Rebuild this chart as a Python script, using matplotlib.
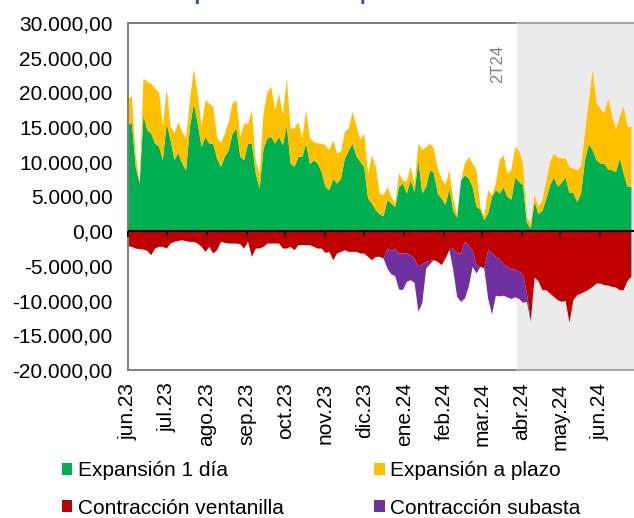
import matplotlib
matplotlib.use('Agg')
import matplotlib.pyplot as plt
import matplotlib.transforms as mtransforms
from matplotlib.patches import Patch
import pandas as pd
import numpy as np

plt.rcParams['font.family'] = ['Liberation Sans', 'DejaVu Sans']

# ---------------- data ----------------
dates = pd.date_range('2023-06-01', periods=131, freq='3D')

exp_1dia = [15264, 15600, 9264, 6864, 16704, 14544, 14064, 12624, 12240, 10224,
            15504, 13104, 10224, 11280, 9744, 8784, 15024, 18384, 15504, 12144,
            13584, 12624, 12624, 10464, 9264, 10704, 11664, 14064, 14784, 10704,
            10224, 12624, 12624, 8304, 6144, 11904, 13344, 13584, 12624, 13584,
            12384, 15264, 9744, 9264, 10704, 10704, 12624, 9648, 10224, 9744,
            8544, 6384, 5904, 7584, 6864, 7584, 10464, 11568, 12624, 10800,
            9984, 9264, 4704, 3984, 3024, 2448, 2160, 4464, 3984, 3504,
            6384, 6864, 5424, 7344, 5664, 10224, 5424, 6384, 8784, 8400,
            5424, 4704, 3744, 6144, 2928, 1968, 7344, 8064, 7584, 6384,
            3504, 3120, 1584, 2544, 4944, 5904, 5424, 6288, 4944, 4560,
            7728, 7104, 6624, 1200, 384, 4224, 2448, 2928, 4560, 6624,
            7728, 6384, 7008, 7728, 5520, 5520, 4224, 5424, 10224, 12528,
            11664, 10224, 9744, 9744, 8880, 8784, 8544, 10464, 8304, 6384,
            6384]

exp_plazo = [3840, 3840, 1920, 0, 5280, 6960, 7200, 7920, 7824, 4800,
             5040, 1920, 3840, 4464, 4560, 4560, 3840, 5040, 4320, 2880,
             5280, 5760, 5280, 3120, 3360, 3360, 4080, 4320, 4080, 2880,
             5280, 2880, 4800, 1920, 2160, 5040, 6720, 7200, 4800, 6240,
             4320, 6720, 5040, 5520, 5040, 2640, 4800, 3696, 2640, 2880,
             4080, 6000, 5760, 5520, 4320, 3840, 3840, 3216, 4560, 4320,
             3216, 4800, 3600, 6960, 6240, 2976, 3024, 1920, 960, 480,
             1920, 480, 1680, 1920, 1200, 2400, 6240, 5760, 3840, 3504,
             3600, 2880, 2880, 2640, 1776, 336, 0, 1680, 3120, 3360,
             5280, 384, 576, 3360, 240, 960, 4896, 4656, 3360, 4320,
             4416, 4464, 3120, 864, 720, 960, 1056, 1440, 2544, 3360,
             3360, 4224, 3456, 2736, 3744, 3504, 4560, 3840, 3840, 6096,
             11520, 8160, 7920, 7200, 10224, 7920, 6000, 6000, 9600, 8640,
             8640]

contr_ventanilla = [-2160, -2256, -2496, -2592, -2640, -2832, -3456, -2496, -2256, -2256,
                    -2496, -1776, -1536, -1392, -1296, -1440, -1536, -1536, -1776, -2256,
                    -2976, -2256, -3216, -2736, -1536, -1680, -1776, -1776, -1776, -1872,
                    -2496, -1536, -3696, -2496, -2496, -2256, -1776, -1776, -1776, -1776,
                    -2496, -2496, -2256, -2736, -2016, -2016, -2016, -2016, -2256, -2496,
                    -2496, -3120, -2976, -4176, -3216, -2976, -2736, -2976, -2976, -2976,
                    -3216, -3216, -3696, -4176, -3696, -3696, -3936, -2496, -2832, -2496,
                    -3216, -3216, -3216, -3456, -3936, -5136, -4752, -4416, -4272, -4176,
                    -4416, -4896, -3936, -2736, -2496, -3216, -3216, -1536, -2016, -2832,
                    -4896, -5136, -5376, -2736, -3120, -3696, -4032, -4752, -5136, -5472,
                    -5520, -5856, -6192, -8976, -13000, -6672, -7200, -8496, -8496, -8976,
                    -9456, -9936, -10176, -10032, -13200, -9936, -9216, -8976, -8736, -8400,
                    -8016, -7536, -7536, -7776, -7824, -8016, -8112, -8496, -8496, -7152,
                    -6576]

contr_subasta = [0] * 67 + [-2880, -3360, -3984, -5184, -5280, -4080, -3600, -3504,
                            -6480, -5568, -960, -480, 0, 0, 0, 0, 0, -3120, -6240,
                            -6960, -8160, -6000, -2304, -1200, 0, 0, -6960, -8880,
                            -5600, -5360, -4540, -4400, -4300, -4000, -3900, -4100,
                            -1200] + [0] * 27

month_ticks = pd.date_range('2023-06-01', '2024-06-01', freq='MS')
month_labels = ['jun.23', 'jul.23', 'ago.23', 'sep.23', 'oct.23', 'nov.23', 'dic.23',
                'ene.24', 'feb.24', 'mar.24', 'abr.24', 'may.24', 'jun.24']

y_ticks = [-20000, -15000, -10000, -5000, 0, 5000, 10000, 15000, 20000, 25000, 30000]
y_labels = ['-20.000,00', '-15.000,00', '-10.000,00', '-5.000,00', '0,00', '5.000,00',
            '10.000,00', '15.000,00', '20.000,00', '25.000,00', '30.000,00']

series_names = ['Expansión 1 día', 'Expansión a plazo', 'Contracción ventanilla', 'Contracción subasta']
colors = ['#00B050', '#FFC000', '#C00000', '#7030A0']

quarter_start = pd.Timestamp('2024-03-28')
quarter_label = '2T24'
x_end = pd.Timestamp('2024-06-27')

title = 'Evolución del saldo de las operaciones de liquidez del Banco Central de Reserva'

# ---------------- figure ----------------
W, H = 634, 518
fig = plt.figure(figsize=(W / 100, H / 100), dpi=100)
ax = fig.add_axes([128 / W, 1 - 370 / H, 1 - 128 / W, (370 - 23) / H])

ax.axvspan(quarter_start, x_end, color='#EBEBEB', lw=0, zorder=0)

ax.stackplot(dates, np.array(exp_1dia), np.array(exp_plazo),
             colors=colors[:2], lw=0, zorder=2)
ax.stackplot(dates, np.array(contr_ventanilla), np.array(contr_subasta),
             colors=colors[2:], lw=0, zorder=2)

ax.set_xlim(pd.Timestamp('2023-06-01'), x_end)
ax.set_ylim(-20000, 30000)

ax.set_yticks(y_ticks)
ax.set_yticklabels(y_labels)
ax.tick_params(axis='y', length=0, pad=11, labelsize=15)

ax.set_xticks(month_ticks)
ax.set_xticklabels(month_labels, rotation=90, va='top', ha='center')
ax.tick_params(axis='x', length=0, pad=9, labelsize=15)

for s in ['left', 'top', 'bottom']:
    ax.spines[s].set_color('#7F7F7F')
    ax.spines[s].set_linewidth(1.4)
ax.spines['right'].set_visible(False)

# lighter frame over the shaded quarter
trans = mtransforms.blended_transform_factory(ax.transData, ax.transAxes)
for yy in (0, 1):
    ax.plot([quarter_start, x_end], [yy, yy], transform=trans, color='#A6A6A6',
            lw=1.4, clip_on=False, zorder=6)

# zero axis with small month ticks pointing down
ax.axhline(0, color='black', lw=1.5, zorder=5)
ax.plot(month_ticks, np.zeros(len(month_ticks)), linestyle='none', marker=3,
        markersize=4.5, markeredgewidth=1.3, color='black', zorder=5, clip_on=False)

ax.text(pd.Timestamp('2024-03-13'), 26800, quarter_label, rotation=90, color='#808080',
        fontsize=12, ha='center', va='top', zorder=4)

handles = [Patch(facecolor=c, edgecolor='none') for c in colors]
order = [0, 2, 1, 3]
fig.legend([handles[i] for i in order], [series_names[i] for i in order],
           ncol=2, loc='upper left', bbox_to_anchor=(62 / W, 1 - 461 / H),
           frameon=False, fontsize=15, handlelength=0.5, handleheight=0.5,
           handletextpad=0.25, columnspacing=4.35, labelspacing=0.9,
           borderpad=0, borderaxespad=0)

fig.text(0.5, 1 + 0.3 / H, title, ha='center', va='baseline', fontsize=15,
         fontweight='bold', color='#2F5597')

fig.savefig('out.png', dpi=100)
